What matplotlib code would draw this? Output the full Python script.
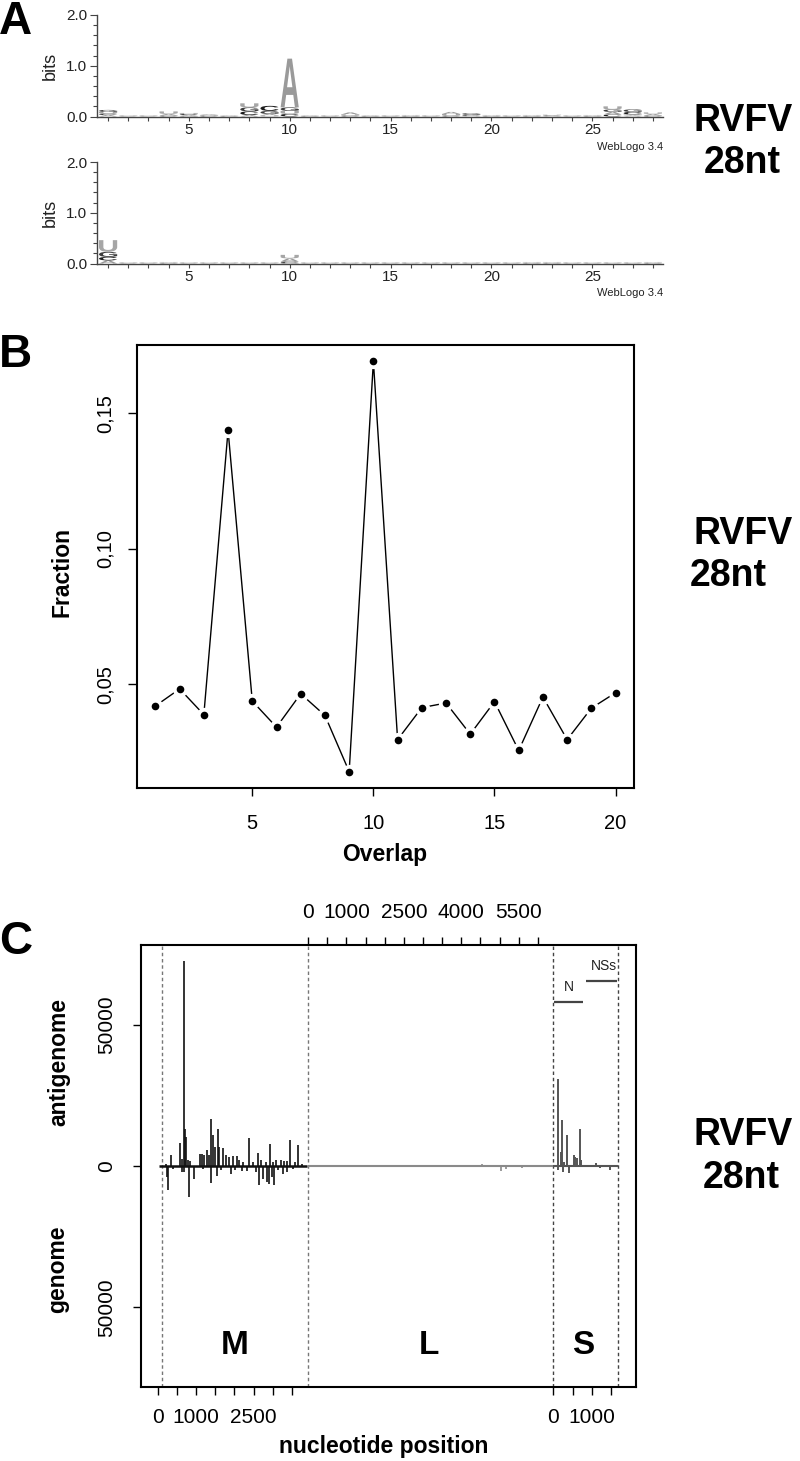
import numpy as np
import matplotlib
matplotlib.use('Agg')
import matplotlib.pyplot as plt
from matplotlib.textpath import TextPath
from matplotlib.patches import PathPatch
from matplotlib.font_manager import FontProperties
import matplotlib.transforms as mtransforms

plt.rcParams['font.family'] = ['Liberation Sans', 'DejaVu Sans']

# ------------------------------------------------------------------ data
# Panel A : sequence logos (bits per nucleotide, positions 1..28)
logo_positions = list(range(1, 29))
logo1_A = [0.03, 0.005, 0.005, 0.03, 0.02, 0.015, 0.01, 0.03, 0.03, 0.96, 0.01, 0.005, 0.04, 0.01,
           0.005, 0.01, 0.005, 0.04, 0.01, 0.01, 0.005, 0.01, 0.01, 0.005, 0.01, 0.05, 0.02, 0.03]
logo1_C = [0.03, 0.005, 0.005, 0.01, 0.02, 0.01, 0.005, 0.07, 0.10, 0.05, 0.005, 0.005, 0.01, 0.005,
           0.005, 0.005, 0.005, 0.01, 0.02, 0.005, 0.005, 0.005, 0.01, 0.005, 0.005, 0.04, 0.05, 0.01]
logo1_G = [0.04, 0.005, 0.005, 0.01, 0.01, 0.01, 0.005, 0.08, 0.06, 0.07, 0.005, 0.005, 0.01, 0.005,
           0.005, 0.005, 0.005, 0.01, 0.03, 0.005, 0.005, 0.005, 0.005, 0.005, 0.005, 0.05, 0.05, 0.01]
logo1_U = [0.03, 0.005, 0.005, 0.05, 0.02, 0.01, 0.005, 0.08, 0.02, 0.06, 0.005, 0.005, 0.02, 0.005,
           0.005, 0.01, 0.005, 0.03, 0.005, 0.01, 0.005, 0.01, 0.01, 0.005, 0.01, 0.06, 0.02, 0.03]

logo2_A = [0.06, 0.005, 0.005, 0.01, 0.005, 0.005, 0.005, 0.005, 0.005, 0.06, 0.005, 0.005, 0.005, 0.005,
           0.005, 0.005, 0.005, 0.005, 0.005, 0.005, 0.005, 0.01, 0.01, 0.005, 0.005, 0.005, 0.005, 0.01]
logo2_C = [0.07, 0.005, 0.005, 0.005, 0.005, 0.005, 0.005, 0.005, 0.005, 0.03, 0.005, 0.005, 0.005, 0.005,
           0.005, 0.005, 0.005, 0.005, 0.005, 0.005, 0.005, 0.005, 0.005, 0.005, 0.005, 0.005, 0.005, 0.005]
logo2_G = [0.10, 0.005, 0.005, 0.005, 0.005, 0.005, 0.005, 0.005, 0.005, 0.01, 0.005, 0.005, 0.005, 0.005,
           0.005, 0.005, 0.005, 0.005, 0.005, 0.005, 0.005, 0.005, 0.005, 0.005, 0.005, 0.005, 0.005, 0.005]
logo2_U = [0.23, 0.005, 0.005, 0.01, 0.005, 0.005, 0.005, 0.005, 0.005, 0.07, 0.005, 0.005, 0.005, 0.005,
           0.005, 0.005, 0.005, 0.005, 0.005, 0.005, 0.005, 0.01, 0.01, 0.005, 0.005, 0.005, 0.005, 0.01]

# Panel B : overlap fraction
overlap = list(range(1, 21))
fraction = [0.0420, 0.0483, 0.0388, 0.1437, 0.0438, 0.0342, 0.0465, 0.0385, 0.0178, 0.1691,
            0.0296, 0.0414, 0.0431, 0.0316, 0.0436, 0.0256, 0.0453, 0.0296, 0.0412, 0.0469]

# Panel C : read counts along segments (position in segment, count)
M_LEN, L_LEN, S_LEN = 3885, 6404, 1690
m_anti_pos = [209, 347, 582, 626, 676, 700, 730, 783, 840, 1104, 1156, 1217, 1278, 1339, 1391, 1435,
              1496, 1565, 1609, 1713, 1783, 1861, 1974, 2061, 2130, 2235, 2391, 2496, 2626, 2696,
              2817, 2930, 3017, 3087, 3208, 3295, 3365, 3452, 3582, 3669, 3756]
m_anti_val = [600, 3800, 8100, 2600, 72500, 13200, 10300, 2000, 1600, 4100, 4400, 4000, 5800, 3800,
              16500, 10900, 6700, 13200, 6700, 6500, 3800, 3200, 3400, 3400, 2000, 1400, 10000, 1400,
              4700, 2000, 1400, 7900, 1400, 2000, 2200, 1800, 1650, 9100, 1400, 7550, 600]
m_gen_pos = [235, 261, 391, 643, 696, 825, 956, 1191, 1391, 1539, 1643, 1904, 2017, 2191, 2322, 2565,
             2652, 2757, 2843, 2913, 2974, 3043, 3148, 3278, 3382, 3521]
m_gen_val = [3900, 8400, 900, 2100, 2100, 11000, 4500, 900, 6000, 3700, 1500, 3000, 1500, 1800, 1900,
             2100, 6800, 4500, 5700, 6300, 3900, 6600, 1500, 3000, 2100, 900]
l_anti_pos = [1357, 3966, 4531]
l_anti_val = [300, 400, 600]
l_gen_pos = [2350, 5027, 5166, 5575]
l_gen_val = [400, 1800, 1000, 700]
s_anti_pos = [130, 201, 227, 271, 350, 532, 566, 610, 705, 731, 1114]
s_anti_val = [30900, 5000, 16400, 1400, 10800, 4000, 3200, 3000, 13200, 2000, 1200]
s_gen_pos = [130, 245, 402, 1210, 1479]
s_gen_val = [1500, 2100, 2500, 600, 1500]
gene_names = ['N', 'NSs']
gene_start = [18, 855]
gene_end = [775, 1664]

# ------------------------------------------------------------------ figure
W, H, DPI = 800, 1461, 100
fig = plt.figure(figsize=(W / DPI, H / DPI), dpi=DPI)


def rect(l, t, r, b):
    return [l / W, 1 - b / H, (r - l) / W, (b - t) / H]


def ftext(x, y, s, **kw):
    return fig.text(x / W, 1 - y / H, s, **kw)


def pt(px):
    return px * 72.0 / DPI


# ---------------- Panel A
letter_colors = {'A': '#9a9a9a', 'C': '#1c1c1c', 'G': '#3c3c3c', 'U': '#a6a6a6'}
fp_logo = FontProperties(family='Liberation Sans', weight='bold')


def draw_logo(ax, heights):
    for i, pos in enumerate(logo_positions):
        stack = sorted([(heights[L][i], L) for L in 'ACGU'])
        y0 = 0.0
        for h, L in stack:
            if h <= 0:
                continue
            tp = TextPath((0, 0), L, size=1, prop=fp_logo)
            bb = tp.get_extents()
            w = 0.9
            tr = (mtransforms.Affine2D().translate(-bb.x0, -bb.y0)
                  .scale(w / bb.width, h / bb.height).translate(pos - w / 2, y0))
            ax.add_patch(PathPatch(tr.transform_path(tp), fc=letter_colors[L], ec='none', lw=0))
            y0 += h


logos = [
    (15, 116.5, {'A': logo1_A, 'C': logo1_C, 'G': logo1_G, 'U': logo1_U}),
    (162, 263.5, {'A': logo2_A, 'C': logo2_C, 'G': logo2_G, 'U': logo2_U}),
]
for t, b, hts in logos:
    ax = fig.add_axes(rect(97, t, 663, b))
    draw_logo(ax, hts)
    ax.set_xlim(0.45, 28.5)
    ax.set_ylim(0, 2)
    for s in ['top', 'right']:
        ax.spines[s].set_visible(False)
    for s in ['left', 'bottom']:
        ax.spines[s].set_color('#444444')
        ax.spines[s].set_linewidth(1.0)
    ax.set_xticks(logo_positions)
    ax.set_xticklabels([str(p) if p % 5 == 0 else '' for p in logo_positions])
    ax.set_yticks([0, 1, 2])
    ax.set_yticklabels(['0.0', '1.0', '2.0'])
    ax.set_yticks(np.arange(0, 2.01, 0.2), minor=True)
    ax.tick_params(axis='x', direction='out', length=3, width=0.8, color='#444444',
                   labelsize=11, pad=2, labelcolor='#222222')
    ax.tick_params(axis='y', which='major', direction='out', length=5, width=0.8, color='#444444',
                   labelsize=11, pad=2, labelcolor='#222222')
    ax.tick_params(axis='y', which='minor', direction='out', length=3, width=0.8, color='#444444')
    ax.set_facecolor('none')
    ftext(50, (t + b) / 2, 'bits', rotation=90, ha='center', va='center', fontsize=13, color='#222222')
    ftext(663, b + 30, 'WebLogo 3.4', ha='right', va='center', fontsize=8, color='#222222')

# ---------------- Panel B
axB = fig.add_axes(rect(137, 345, 634, 788))
axB.plot(overlap, fraction, color='black', lw=1.0, zorder=2)
axB.plot(overlap, fraction, 'o', ms=11, mfc='white', mec='none', zorder=3)
axB.plot(overlap, fraction, 'o', ms=5.5, mfc='black', mec='none', zorder=4)
axB.set_xlim(0.24, 20.76)
axB.set_ylim(0.01175, 0.17515)
axB.set_xticks([5, 10, 15, 20])
axB.set_xticklabels(['5', '10', '15', '20'])
axB.set_yticks([0.05, 0.10, 0.15])
axB.set_yticklabels(['0,05', '0,10', '0,15'], rotation=90, va='center')
axB.tick_params(axis='x', direction='out', length=6, width=1.0, labelsize=14.5, pad=pt(18))
axB.tick_params(axis='y', direction='out', length=6.5, width=1.0, labelsize=14.5, pad=pt(13))
for s in axB.spines.values():
    s.set_linewidth(1.5)
ftext(62, 572, 'Fraction', rotation=90, ha='center', va='center', fontsize=16.5, fontweight='bold')
ftext(385, 855, 'Overlap', ha='center', va='center', fontsize=16.5, fontweight='bold')

# ---------------- Panel C
M_OFF = 0
M_DASH = 100
L_OFF = 3921
S_OFF = L_OFF + L_LEN
axC = fig.add_axes(rect(141, 945, 636, 1387))
axC.set_xlim(-436, 12478)
axC.set_ylim(-78200, 78200)

m_col, l_col, s_col = '#111111', '#8a8a8a', '#555555'
axC.hlines(0, M_OFF + 40, M_OFF + M_LEN, color=m_col, lw=1.8, zorder=3)
axC.hlines(0, L_OFF, L_OFF + L_LEN, color=l_col, lw=1.5, zorder=2)
axC.hlines(0, S_OFF, S_OFF + S_LEN, color=s_col, lw=1.5, zorder=2)
axC.vlines(M_OFF + np.array(m_anti_pos), 0, m_anti_val, color=m_col, lw=1.2, zorder=3)
axC.vlines(M_OFF + np.array(m_gen_pos), 0, -np.array(m_gen_val), color=m_col, lw=1.2, zorder=3)
axC.vlines(L_OFF + np.array(l_anti_pos), 0, l_anti_val, color=l_col, lw=1.2, zorder=2)
axC.vlines(L_OFF + np.array(l_gen_pos), 0, -np.array(l_gen_val), color=l_col, lw=1.2, zorder=2)
axC.vlines(S_OFF + np.array(s_anti_pos), 0, s_anti_val, color=s_col, lw=1.4, zorder=2)
axC.vlines(S_OFF + np.array(s_gen_pos), 0, -np.array(s_gen_val), color=s_col, lw=1.4, zorder=2)

for xv, c in [(M_DASH, '#777777'), (L_OFF, '#777777'), (S_OFF, '#444444'), (S_OFF + S_LEN, '#444444')]:
    axC.axvline(xv, color=c, ls=(0, (2.5, 2)), lw=1.0, zorder=1)

gene_y = [57900, 65300]
for name, gs, ge, gy in zip(gene_names, gene_start, gene_end, gene_y):
    axC.hlines(gy, S_OFF + gs, S_OFF + ge, color='#444444', lw=1.6)
    axC.text(S_OFF + (gs + ge) / 2 + (0 if name == 'N' else 70), gy + 3000, name,
             ha='center', va='bottom', fontsize=10, color='#222222')

seg_y = -63400
axC.text((M_DASH + L_OFF) / 2, seg_y, 'M', ha='center', va='center', fontsize=24, fontweight='bold')
axC.text(L_OFF + L_LEN / 2 - 60, seg_y, 'L', ha='center', va='center', fontsize=24, fontweight='bold')
axC.text(S_OFF + S_LEN / 2 - 60, seg_y, 'S', ha='center', va='center', fontsize=24, fontweight='bold')

m_ticks = list(range(0, 3501, 500))
s_ticks = list(range(0, 1501, 500))
m_lab = {0: '0', 1000: '1000', 2500: '2500'}
s_lab = {0: '0', 1000: '1000'}
axC.set_xticks([M_OFF + v for v in m_ticks] + [S_OFF + v for v in s_ticks])
axC.set_xticklabels([m_lab.get(v, '') for v in m_ticks] + [s_lab.get(v, '') for v in s_ticks])
axC.set_yticks([-50000, 0, 50000])
axC.set_yticklabels(['50000', '0', '50000'], rotation=90, va='center')
axC.tick_params(axis='x', direction='out', length=6, width=1.0, labelsize=15, pad=pt(13))
axC.tick_params(axis='y', direction='out', length=6, width=1.0, labelsize=15, pad=pt(17))
for s in axC.spines.values():
    s.set_linewidth(1.5)

axT = axC.twiny()
axT.set_xlim(axC.get_xlim())
l_ticks = list(range(0, 6001, 500))
l_lab = {0: '0', 1000: '1000', 2500: '2500', 4000: '4000', 5500: '5500'}
axT.set_xticks([L_OFF + v for v in l_ticks])
axT.set_xticklabels([l_lab.get(v, '') for v in l_ticks])
axT.tick_params(axis='x', direction='out', length=6, width=1.0, labelsize=15, pad=pt(15))
for s in axT.spines.values():
    s.set_visible(False)

ftext(59, 1062, 'antigenome', rotation=90, ha='center', va='center', fontsize=16.5, fontweight='bold')
ftext(58, 1269, 'genome', rotation=90, ha='center', va='center', fontsize=16.5, fontweight='bold')
ftext(384, 1447, 'nucleotide position', ha='center', va='center', fontsize=16.5, fontweight='bold')

# ---------------- side labels
for (y1, x1, y2, x2) in [(121, 693, 163, 704), (534, 694, 576, 690), (1135, 693, 1178, 703)]:
    ftext(x1, y1, 'RVFV', ha='left', va='center', fontsize=27, fontweight='bold')
    ftext(x2, y2, '28nt', ha='left', va='center', fontsize=27, fontweight='bold')

ftext(-1, 22, 'A', ha='left', va='center', fontsize=33, fontweight='bold')
ftext(-1, 355, 'B', ha='left', va='center', fontsize=33, fontweight='bold')
ftext(-1, 942, 'C', ha='left', va='center', fontsize=33, fontweight='bold')

fig.savefig('out.png', dpi=DPI)
